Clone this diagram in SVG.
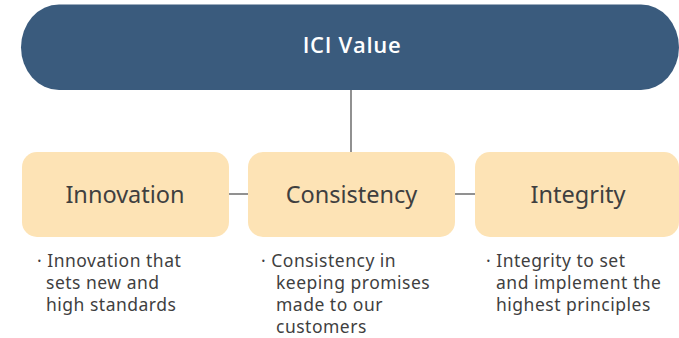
<svg xmlns="http://www.w3.org/2000/svg" width="679" height="338" viewBox="0 0 679 338">
  <style>
    .pill { fill: #3A5B7D; }
    .box { fill: #FDE3B5; }
    .title { font-family: "Open Sans", "Noto Sans", sans-serif; font-size: 22px; font-weight: 600; letter-spacing: 0.7px; fill: #FFFFFF; text-anchor: middle; }
    .label { font-family: "Noto Sans", "Open Sans", sans-serif; font-size: 23.5px; fill: #3F3F3F; text-anchor: middle; }
    .desc { font-family: "Noto Sans", "Open Sans", sans-serif; font-size: 17.5px; letter-spacing: 0.5px; fill: #3F3F3F; }
    .conn { stroke: #555555; stroke-width: 1.3; fill: none; }
  </style>
  <rect width="679" height="338" fill="#FFFFFF"/>
  <g id="connectors">
    <line class="conn" x1="351" y1="90" x2="351" y2="152"/>
    <line class="conn" x1="229" y1="194" x2="248" y2="194"/>
    <line class="conn" x1="455" y1="194" x2="475" y2="194"/>
  </g>
  <g id="ici-value">
    <rect class="pill" x="21" y="4.5" width="658" height="85.5" rx="38" ry="42.75"/>
    <text class="title" x="352" y="53">ICI Value</text>
  </g>
  <g id="innovation">
    <rect class="box" x="22" y="152" width="207" height="85" rx="15"/>
    <text class="label" x="125" y="203">Innovation</text>
    <text class="desc" x="37" y="267">· Innovation that</text>
    <text class="desc" x="46" y="289">sets new and</text>
    <text class="desc" x="46" y="311">high standards</text>
  </g>
  <g id="consistency">
    <rect class="box" x="248" y="152" width="207" height="85" rx="15"/>
    <text class="label" x="351.5" y="203">Consistency</text>
    <text class="desc" x="261" y="267">· Consistency in</text>
    <text class="desc" x="276" y="289">keeping promises</text>
    <text class="desc" x="276" y="311">made to our</text>
    <text class="desc" x="276" y="333">customers</text>
  </g>
  <g id="integrity">
    <rect class="box" x="475" y="152" width="204" height="85" rx="15"/>
    <text class="label" x="578" y="203">Integrity</text>
    <text class="desc" x="486" y="267">· Integrity to set</text>
    <text class="desc" x="496" y="289">and implement the</text>
    <text class="desc" x="496" y="311">highest principles</text>
  </g>
</svg>
